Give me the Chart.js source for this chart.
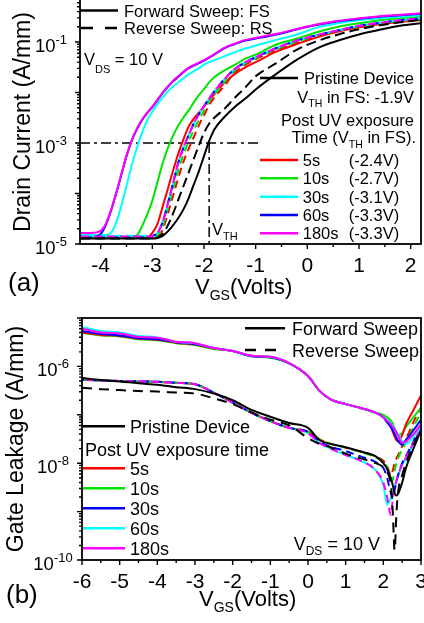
<!DOCTYPE html>
<html><head><meta charset="utf-8">
<script src="https://cdn.jsdelivr.net/npm/chart.js@4.4.0/dist/chart.umd.min.js"></script>
<style>
html,body{margin:0;padding:0;background:#fff;width:424px;height:623px;overflow:hidden;position:relative}
#wa{position:absolute;left:0;top:-20px;width:424px;height:320px}
#wb{position:absolute;left:0;top:300px;width:424px;height:323px}
canvas{display:block}
</style></head><body>
<div id="wa"><canvas id="ca" width="424" height="320"></canvas></div>
<div id="wb"><canvas id="cb" width="424" height="323"></canvas></div>
<script>
// ---------------- Panel (a): transfer curves, Id (A/mm) vs VGS ----------------
const vgsA = [-4.4,-4.2,-4.0,-3.9,-3.8,-3.7,-3.6,-3.5,-3.4,-3.3,-3.2,-3.1,-3.0,-2.9,-2.8,-2.7,-2.6,-2.5,-2.4,-2.3,-2.2,-2.1,-2.0,-1.9,-1.8,-1.6,-1.4,-1.2,-1.0,-0.6,-0.2,0.2,0.6,1.0,1.4,1.8,2.2];
const pristineFS_A = [1.29e-5,1.29e-5,1.29e-5,1.29e-5,1.29e-5,1.29e-5,1.29e-5,1.29e-5,1.29e-5,1.29e-5,1.29e-5,1.29e-5,1.29e-5,1.32e-5,1.45e-5,1.78e-5,2.34e-5,3.24e-5,4.79e-5,7.94e-5,1.48e-4,2.75e-4,5.50e-4,1.10e-3,1.86e-3,3.31e-3,5.25e-3,7.59e-3,1.15e-2,2.34e-2,4.47e-2,7.59e-2,0.107,0.141,0.174,0.209,0.234];
const pristineRS_A = [1.29e-5,1.29e-5,1.29e-5,1.29e-5,1.29e-5,1.29e-5,1.29e-5,1.29e-5,1.29e-5,1.29e-5,1.29e-5,1.29e-5,1.29e-5,1.35e-5,1.58e-5,2.34e-5,3.98e-5,7.41e-5,1.38e-4,2.57e-4,4.79e-4,8.91e-4,1.58e-3,2.40e-3,3.16e-3,4.79e-3,7.94e-3,1.26e-2,2.09e-2,3.80e-2,7.08e-2,0.105,0.141,0.178,0.214,0.245,0.275];
const uv5sFS_A = [1.35e-5,1.35e-5,1.35e-5,1.35e-5,1.35e-5,1.35e-5,1.35e-5,1.35e-5,1.35e-5,1.35e-5,1.35e-5,1.35e-5,1.66e-5,2.51e-5,5.50e-5,1.23e-4,2.82e-4,6.03e-4,1.17e-3,2.09e-3,3.02e-3,3.98e-3,5.25e-3,7.08e-3,9.33e-3,1.58e-2,2.34e-2,3.16e-2,3.98e-2,6.46e-2,9.12e-2,0.126,0.162,0.195,0.224,0.251,0.275];
const uv5sRS_A = [1.32e-5,1.32e-5,1.32e-5,1.32e-5,1.32e-5,1.32e-5,1.32e-5,1.32e-5,1.32e-5,1.32e-5,1.32e-5,1.32e-5,1.32e-5,1.38e-5,1.91e-5,3.98e-5,8.91e-5,2.00e-4,4.17e-4,7.59e-4,1.29e-3,2.24e-3,3.55e-3,5.62e-3,7.94e-3,1.38e-2,2.51e-2,3.55e-2,4.57e-2,6.92e-2,9.55e-2,0.132,0.166,0.200,0.229,0.251,0.269];
const uv10sFS_A = [1.41e-5,1.41e-5,1.41e-5,1.41e-5,1.41e-5,1.41e-5,1.41e-5,1.41e-5,1.41e-5,1.48e-5,2.24e-5,3.80e-5,7.24e-5,1.70e-4,3.98e-4,7.94e-4,1.38e-3,2.19e-3,3.16e-3,4.37e-3,6.31e-3,8.91e-3,1.17e-2,1.58e-2,2.00e-2,2.75e-2,3.55e-2,4.68e-2,5.62e-2,8.91e-2,0.117,0.158,0.200,0.234,0.269,0.295,0.316];
const uv10sRS_A = [1.38e-5,1.38e-5,1.38e-5,1.38e-5,1.38e-5,1.38e-5,1.38e-5,1.38e-5,1.38e-5,1.38e-5,1.38e-5,1.38e-5,1.38e-5,1.51e-5,2.29e-5,5.01e-5,1.20e-4,2.82e-4,5.75e-4,1.05e-3,1.78e-3,2.88e-3,4.37e-3,6.61e-3,9.12e-3,1.62e-2,2.75e-2,3.80e-2,4.79e-2,7.24e-2,0.102,0.135,0.170,0.204,0.234,0.263,0.282];
const uv30sFS_A = [1.51e-5,1.51e-5,1.51e-5,1.51e-5,1.66e-5,2.63e-5,5.75e-5,1.41e-4,3.55e-4,7.94e-4,1.58e-3,2.82e-3,4.17e-3,5.89e-3,7.94e-3,1.05e-2,1.32e-2,1.58e-2,1.91e-2,2.29e-2,2.63e-2,3.02e-2,3.55e-2,3.98e-2,4.37e-2,5.25e-2,6.31e-2,7.41e-2,8.51e-2,0.110,0.141,0.195,0.234,0.269,0.295,0.316,0.339];
const uv30sRS_A = [1.45e-5,1.45e-5,1.45e-5,1.45e-5,1.45e-5,1.45e-5,1.45e-5,1.45e-5,1.45e-5,1.45e-5,1.45e-5,1.45e-5,1.45e-5,1.66e-5,2.75e-5,6.31e-5,1.58e-4,3.98e-4,7.94e-4,1.41e-3,2.40e-3,3.72e-3,5.37e-3,7.59e-3,1.05e-2,1.86e-2,2.95e-2,3.98e-2,5.01e-2,7.59e-2,0.107,0.138,0.170,0.209,0.240,0.269,0.295];
const uv60sFS_A = [1.35e-5,1.35e-5,1.58e-5,2.40e-5,4.57e-5,1.00e-4,2.34e-4,5.50e-4,1.10e-3,1.86e-3,2.82e-3,3.89e-3,5.13e-3,7.08e-3,9.77e-3,1.29e-2,1.66e-2,2.04e-2,2.51e-2,3.02e-2,3.39e-2,3.80e-2,4.27e-2,4.90e-2,5.62e-2,7.59e-2,9.12e-2,0.107,0.117,0.141,0.178,0.219,0.257,0.288,0.316,0.339,0.363];
const uv60sRS_A = [1.35e-5,1.35e-5,1.35e-5,1.35e-5,1.35e-5,1.35e-5,1.35e-5,1.35e-5,1.35e-5,1.35e-5,1.35e-5,1.35e-5,1.45e-5,1.66e-5,2.75e-5,6.31e-5,1.58e-4,3.98e-4,7.94e-4,1.41e-3,2.40e-3,3.72e-3,5.37e-3,7.59e-3,1.05e-2,1.86e-2,2.95e-2,3.98e-2,5.01e-2,7.59e-2,0.107,0.138,0.170,0.209,0.240,0.269,0.295];
const uv180sFS_A = [1.66e-5,1.66e-5,1.82e-5,2.51e-5,4.68e-5,1.02e-4,2.40e-4,5.62e-4,1.12e-3,1.91e-3,2.88e-3,3.98e-3,5.25e-3,7.24e-3,1.00e-2,1.32e-2,1.70e-2,2.09e-2,2.57e-2,3.09e-2,3.47e-2,3.89e-2,4.37e-2,5.01e-2,5.75e-2,7.76e-2,9.33e-2,0.110,0.120,0.145,0.182,0.224,0.263,0.295,0.324,0.347,0.372];
const uv180sRS_A = [1.41e-5,1.41e-5,1.41e-5,1.41e-5,1.41e-5,1.41e-5,1.41e-5,1.41e-5,1.41e-5,1.41e-5,1.41e-5,1.41e-5,1.45e-5,1.66e-5,2.75e-5,6.31e-5,1.58e-4,3.98e-4,7.94e-4,1.41e-3,2.40e-3,3.72e-3,5.37e-3,7.59e-3,1.05e-2,1.86e-2,2.95e-2,3.98e-2,5.01e-2,7.59e-2,0.107,0.138,0.170,0.209,0.240,0.269,0.295];
const exposureLabelsA = ['5s','10s','30s','60s','180s'];
const vthLabelsA = ['(-2.4V)','(-2.7V)','(-3.1V)','(-3.3V)','(-3.3V)'];
const xTicksA = [-4,-3,-2,-1,0,1,2];
const yTickExpA = [-5,-3,-1];
const thresholdCurrentA = 1e-3;
const guideFromVgsA = -4.4, guideToVgsA = -0.95;
const vthPristineA = -1.9;

// ---------------- Panel (b): gate leakage (A/mm) vs VGS ----------------
const vgsB = [-6,-5.5,-5,-4.5,-4,-3.5,-3,-2.5,-2,-1.5,-1,-0.5,0,0.3,0.6,1,1.4,1.8,2,2.1,2.2,2.25,2.3,2.35,2.4,2.5,2.6,2.8,3];
const pristineFS_B = [5.75e-7,5.25e-7,4.90e-7,4.47e-7,4.17e-7,3.72e-7,3.39e-7,2.75e-7,2.00e-7,1.26e-7,9.12e-8,6.76e-8,5.37e-8,3.02e-8,2.51e-8,2.14e-8,1.74e-8,1.38e-8,1.00e-8,7.59e-9,4.79e-9,3.55e-9,2.40e-9,2.14e-9,2.40e-9,3.98e-9,7.94e-9,2.00e-8,4.79e-8];
const pristineRS_B = [3.63e-7,3.39e-7,3.24e-7,3.09e-7,3.02e-7,2.88e-7,2.75e-7,2.19e-7,1.66e-7,1.12e-7,7.94e-8,6.03e-8,3.31e-8,2.51e-8,2.14e-8,1.58e-8,1.26e-8,1.00e-8,8.32e-9,6.61e-9,3.55e-9,1.00e-9,1.58e-10,1.00e-9,2.82e-9,5.62e-9,1.00e-8,2.40e-8,5.01e-8];
const uv5sFS_B = [5.01e-6,4.47e-6,4.27e-6,3.72e-6,3.55e-6,3.09e-6,2.82e-6,2.34e-6,2.09e-6,1.66e-6,1.58e-6,1.17e-6,6.31e-7,3.16e-7,2.09e-7,1.66e-7,1.38e-7,1.10e-7,8.91e-8,7.08e-8,5.62e-8,4.47e-8,3.55e-8,2.95e-8,2.82e-8,3.80e-8,6.31e-8,1.26e-7,2.51e-7];
const uv10sFS_B = [4.90e-6,4.37e-6,4.17e-6,3.63e-6,3.47e-6,3.02e-6,2.75e-6,2.29e-6,2.09e-6,1.62e-6,1.51e-6,1.15e-6,6.31e-7,3.16e-7,2.09e-7,1.66e-7,1.38e-7,1.10e-7,1.00e-7,8.91e-8,7.59e-8,6.61e-8,5.25e-8,4.17e-8,3.80e-8,4.17e-8,5.62e-8,8.91e-8,1.41e-7];
const uv30sFS_B = [5.37e-6,4.68e-6,4.37e-6,3.80e-6,3.63e-6,3.16e-6,2.88e-6,2.40e-6,2.09e-6,1.62e-6,1.55e-6,1.15e-6,6.31e-7,3.16e-7,2.09e-7,1.66e-7,1.38e-7,1.10e-7,8.91e-8,7.08e-8,5.62e-8,4.79e-8,3.98e-8,3.31e-8,2.82e-8,2.40e-8,3.02e-8,4.79e-8,7.94e-8];
const uv60sFS_B = [6.46e-6,5.37e-6,5.01e-6,4.27e-6,3.98e-6,3.24e-6,3.02e-6,2.40e-6,2.09e-6,1.66e-6,1.58e-6,1.17e-6,6.31e-7,3.16e-7,2.09e-7,1.66e-7,1.38e-7,1.10e-7,8.91e-8,7.94e-8,6.61e-8,6.03e-8,5.25e-8,4.47e-8,3.80e-8,2.82e-8,2.51e-8,3.55e-8,5.62e-8];
const uv180sFS_B = [6.03e-6,5.01e-6,4.79e-6,4.07e-6,3.89e-6,3.24e-6,3.02e-6,2.40e-6,2.09e-6,1.66e-6,1.58e-6,1.17e-6,6.31e-7,3.16e-7,2.09e-7,1.66e-7,1.38e-7,1.10e-7,8.91e-8,7.59e-8,6.31e-8,5.62e-8,5.01e-8,4.27e-8,3.55e-8,2.63e-8,2.82e-8,3.98e-8,6.31e-8];
const uv5sRS_B = [5.25e-7,5.13e-7,5.01e-7,4.90e-7,4.79e-7,4.57e-7,4.27e-7,2.88e-7,1.78e-7,1.10e-7,7.41e-8,5.37e-8,4.47e-8,3.16e-8,2.51e-8,2.09e-8,1.74e-8,1.38e-8,1.12e-8,8.91e-9,5.62e-9,7.08e-9,1.00e-8,1.26e-8,1.51e-8,2.24e-8,3.16e-8,7.08e-8,1.41e-7];
const uv10sRS_B = [5.25e-7,5.13e-7,5.01e-7,4.90e-7,4.79e-7,4.57e-7,4.27e-7,2.88e-7,1.78e-7,1.10e-7,7.41e-8,5.37e-8,4.47e-8,3.16e-8,2.51e-8,2.09e-8,1.70e-8,1.32e-8,1.07e-8,8.32e-9,5.01e-9,4.47e-9,7.08e-9,1.00e-8,1.32e-8,1.91e-8,2.63e-8,5.62e-8,1.12e-7];
const uv30sRS_B = [5.25e-7,5.13e-7,5.01e-7,4.90e-7,4.79e-7,4.57e-7,4.27e-7,2.88e-7,1.78e-7,1.10e-7,7.41e-8,5.37e-8,4.47e-8,2.82e-8,2.19e-8,1.78e-8,1.38e-8,1.05e-8,7.94e-9,5.01e-9,2.40e-9,1.91e-9,2.82e-9,4.17e-9,6.03e-9,1.00e-8,1.41e-8,2.82e-8,6.61e-8];
const uv60sRS_B = [5.25e-7,5.13e-7,5.01e-7,4.90e-7,4.79e-7,4.57e-7,4.27e-7,2.88e-7,1.78e-7,1.10e-7,7.41e-8,5.37e-8,4.17e-8,2.63e-8,2.00e-8,1.48e-8,1.12e-8,7.08e-9,3.55e-9,1.41e-9,1.91e-9,2.40e-9,3.16e-9,4.17e-9,5.62e-9,8.91e-9,1.26e-8,2.51e-8,5.25e-8];
const uv180sRS_B = [5.25e-7,5.13e-7,5.01e-7,4.90e-7,4.79e-7,4.57e-7,4.27e-7,2.88e-7,1.78e-7,1.10e-7,7.41e-8,5.37e-8,4.17e-8,2.63e-8,2.00e-8,1.48e-8,1.12e-8,7.08e-9,3.98e-9,2.00e-9,8.51e-10,1.78e-9,3.16e-9,4.47e-9,6.03e-9,9.55e-9,1.32e-8,2.63e-8,5.62e-8];
const exposureLabelsB = ['5s','10s','30s','60s','180s'];
const xTicksB = [-6,-5,-4,-3,-2,-1,0,1,2,3];
const yTickExpB = [-10,-8,-6];

// ---------------- styling ----------------
const RED='#ff0000', GREEN='#00e400', CYAN='#00ffff', BLUE='#0000ff', MAGENTA='#ff00ff', BLACK='#000000';
const colorsA = [RED, GREEN, CYAN, BLUE, MAGENTA];
const colorsB = [RED, GREEN, BLUE, CYAN, MAGENTA];
const FONT = "'Liberation Sans', Arial, Helvetica, sans-serif";

function series(xs, ys, color, dash, offset, width){
  return {data: xs.map((x,i)=>({x:x, y:ys[i]})), borderColor: color, backgroundColor: color,
    borderWidth: width||2, borderDash: dash||[], borderDashOffset: offset||0,
    pointRadius:0, pointHoverRadius:0, fill:false, cubicInterpolationMode:'monotone'};
}
function setFont(ctx, s){ ctx.font = s + 'px ' + FONT; }
function rich(ctx, parts, x, y, align){
  let w = 0;
  parts.forEach(p=>{ setFont(ctx,p[1]); w += ctx.measureText(p[0]).width; });
  let cx = align==='right' ? x-w : (align==='center' ? x-w/2 : x);
  ctx.textAlign='left'; ctx.textBaseline='alphabetic';
  parts.forEach(p=>{ setFont(ctx,p[1]); ctx.fillText(p[0], cx, y+(p[2]||0)); cx += ctx.measureText(p[0]).width; });
}
function hline(ctx, x0, x1, y, color, w, dash){
  ctx.save(); ctx.strokeStyle=color; ctx.lineWidth=w; ctx.setLineDash(dash||[]);
  ctx.beginPath(); ctx.moveTo(x0,y); ctx.lineTo(x1,y); ctx.stroke(); ctx.restore();
}
function vtitle(ctx, text, size, baseX, centerY){
  ctx.save(); ctx.translate(baseX, centerY); ctx.rotate(-Math.PI/2);
  setFont(ctx,size); ctx.textAlign='center'; ctx.textBaseline='alphabetic';
  ctx.fillText(text, 0, 0); ctx.restore();
}
function drawFrame(chart, xTicks, yExp, yLabelCenter){
  const ctx=chart.ctx, a=chart.chartArea, xs=chart.scales.x, ys=chart.scales.y;
  ctx.save(); ctx.strokeStyle='#000'; ctx.fillStyle='#000';
  ctx.lineWidth=1.8; ctx.setLineDash([]);
  ctx.strokeRect(a.left, a.top, a.right-a.left, a.bottom-a.top);
  ctx.lineWidth=1.4; ctx.beginPath();
  for(let k=Math.ceil(xs.min*2); k/2<=xs.max+1e-9; k++){
    const px=xs.getPixelForValue(k/2), major=(k%2===0);
    ctx.moveTo(px, a.bottom); ctx.lineTo(px, a.bottom+(major?5:3));
  }
  const d0=Math.floor(Math.log10(ys.min)), d1=Math.ceil(Math.log10(ys.max));
  for(let d=d0; d<=d1; d++){
    for(let m=1;m<=9;m++){
      const v=m*Math.pow(10,d);
      if(v<ys.min*0.999||v>ys.max*1.001) continue;
      const py=ys.getPixelForValue(v);
      ctx.moveTo(a.left, py); ctx.lineTo(a.left-(m===1?5:3), py);
    }
  }
  ctx.stroke();
  setFont(ctx,21); ctx.textAlign='center'; ctx.textBaseline='alphabetic';
  xTicks.forEach(v=>{ ctx.fillText(String(v), xs.getPixelForValue(v), a.bottom+28); });
  yExp.forEach(e=>{
    const py=ys.getPixelForValue(Math.pow(10,e));
    rich(ctx, [['10',18.5,10],[String(e),13,2]], yLabelCenter, py, 'center');
  });
  ctx.restore();
}

// ---------------- chart (a) ----------------
// built bottom-to-top, then reversed (Chart.js paints dataset 0 last, i.e. on top)
const setsA = [];
[uv5sFS_A, uv10sFS_A, uv30sFS_A, uv60sFS_A, uv180sFS_A].forEach((s,i)=>setsA.push(series(vgsA, s, colorsA[i], [], 0, 2)));
[uv5sRS_A, uv10sRS_A, uv30sRS_A, uv60sRS_A, uv180sRS_A].forEach((s,i)=>setsA.push(series(vgsA, s, colorsA[i], [8,5], i*3, 2)));
setsA.push(series(vgsA, pristineRS_A, BLACK, [10,5], 0, 2));
setsA.push(series(vgsA, pristineFS_A, BLACK, [], 0, 2));
setsA.reverse();

const pluginA = {
  id:'panelA',
  beforeDatasetsDraw(chart){
    const ctx=chart.ctx, xs=chart.scales.x, ys=chart.scales.y;
    ctx.save(); ctx.strokeStyle='#000'; ctx.lineWidth=1.5; ctx.setLineDash([10,4,3,4]);
    const yp=ys.getPixelForValue(thresholdCurrentA);
    ctx.beginPath();
    ctx.moveTo(xs.getPixelForValue(guideFromVgsA), yp); ctx.lineTo(xs.getPixelForValue(guideToVgsA), yp);
    const xp=xs.getPixelForValue(vthPristineA);
    ctx.moveTo(xp, yp); ctx.lineTo(xp, chart.chartArea.bottom);
    ctx.stroke(); ctx.restore();
  },
  afterDraw(chart){
    drawFrame(chart, xTicksA, yTickExpA, 51);
    const ctx=chart.ctx; ctx.save(); ctx.translate(0,20); ctx.fillStyle='#000';
    hline(ctx,80,118,10.5,BLACK,2.5,[]);
    rich(ctx,[['Forward Sweep: FS',16.5]],124,16.5,'left');
    hline(ctx,81,117,28,BLACK,2.5,[12,12]);
    rich(ctx,[['Reverse Sweep: RS',16.5]],124,34,'left');
    rich(ctx,[['V',16.5],['DS',11,8],[' = 10 V',16.5]],84,65,'left');
    hline(ctx,260,298,78,BLACK,2.5,[]);
    rich(ctx,[['Pristine Device',16.5]],414,84,'right');
    rich(ctx,[['V',16.5],['TH',10.5,4.5],[' in FS: -1.9V',16.5]],414,102.5,'right');
    rich(ctx,[['Post UV exposure',16.5]],414,125.5,'right');
    rich(ctx,[['Time (V',16.5],['TH',10.5,4.5],[' in FS).',16.5]],416,143,'right');
    const ly=[160,178.3,196.7,215,233.3];
    ly.forEach((y,i)=>{
      hline(ctx,260,298,y,colorsA[i],2.5,[]);
      rich(ctx,[[exposureLabelsA[i],16.5]],302.7,y+6,'left');
      rich(ctx,[[vthLabelsA[i],16.5]],348.7,y+6,'left');
    });
    rich(ctx,[['V',16.5],['TH',11,5]],212,235,'left');
    rich(ctx,[['V',22],['GS',14,6],['(Volts)',22]],195,294,'left');
    vtitle(ctx,'Drain Current (A/mm)',23,29.5,122);
    rich(ctx,[['(a)',26]],8,291,'left');
    ctx.restore();
  }
};

new Chart(document.getElementById('ca'), {
  type:'line',
  data:{datasets:setsA},
  options:{
    responsive:false, animation:false, devicePixelRatio:1,
    layout:{padding:{top:19,right:3,left:0,bottom:0}},
    plugins:{legend:{display:false}, tooltip:{enabled:false}},
    scales:{
      x:{type:'linear', min:-4.4, max:2.2, ticks:{display:false, stepSize:1}, grid:{display:false}, border:{display:false}, afterFit:(s)=>{s.height=56;}},
      y:{type:'logarithmic', min:1e-5, max:0.71, ticks:{display:false}, grid:{display:false}, border:{display:false}, afterFit:(s)=>{s.width=80;}}
    }
  },
  plugins:[pluginA]
});

// ---------------- chart (b) ----------------
const setsB = [];
setsB.push(series(vgsB, uv60sRS_B, colorsB[3], [], 0, 2));
[[uv5sRS_B,0],[uv10sRS_B,1],[uv30sRS_B,2],[uv180sRS_B,4]].forEach((p,i)=>setsB.push(series(vgsB, p[0], colorsB[p[1]], [8,5], i*3, 2)));
[[uv10sFS_B,1],[uv5sFS_B,0],[uv30sFS_B,2],[uv60sFS_B,3],[uv180sFS_B,4]].forEach(p=>setsB.push(series(vgsB, p[0], colorsB[p[1]], [], 0, 2)));
setsB.push(series(vgsB, pristineRS_B, BLACK, [10,7], 0, 2));
setsB.push(series(vgsB, pristineFS_B, BLACK, [], 0, 2));
setsB.reverse();

const pluginB = {
  id:'panelB',
  afterDraw(chart){
    drawFrame(chart, xTicksB, yTickExpB, 53);
    const ctx=chart.ctx; ctx.save(); ctx.translate(0,-300); ctx.fillStyle='#000';
    hline(ctx,245,285,328.3,BLACK,2.5,[]);
    rich(ctx,[['Forward Sweep',18]],292,334.8,'left');
    hline(ctx,245,285,350,BLACK,2.5,[11,9]);
    rich(ctx,[['Reverse Sweep',18]],292,356.5,'left');
    hline(ctx,83,125,426.3,BLACK,2.5,[]);
    rich(ctx,[['Pristine Device',18]],130,432.8,'left');
    rich(ctx,[['Post UV exposure time',18]],85,456,'left');
    const ly=[468.3,488.3,508.3,528.3,548.3];
    ly.forEach((y,i)=>{
      hline(ctx,83,125,y,colorsB[i],2.5,[]);
      rich(ctx,[[exposureLabelsB[i],18]],130,y+6.5,'left');
    });
    rich(ctx,[['V',18],['DS',12,5],[' = 10 V',18]],293.7,550,'left');
    rich(ctx,[['V',22],['GS',14,6],['(Volts)',22]],199,606,'left');
    vtitle(ctx,'Gate Leakage (A/mm)',23,22.5,439);
    rich(ctx,[['(b)',26]],6,603,'left');
    ctx.restore();
  }
};

new Chart(document.getElementById('cb'), {
  type:'line',
  data:{datasets:setsB},
  options:{
    responsive:false, animation:false, devicePixelRatio:1,
    layout:{padding:{top:18,right:3,left:0,bottom:0}},
    plugins:{legend:{display:false}, tooltip:{enabled:false}},
    scales:{
      x:{type:'linear', min:-6, max:3, ticks:{display:false, stepSize:1}, grid:{display:false}, border:{display:false}, afterFit:(s)=>{s.height=63;}},
      y:{type:'logarithmic', min:1e-10, max:1e-5, ticks:{display:false}, grid:{display:false}, border:{display:false}, afterFit:(s)=>{s.width=82;}}
    }
  },
  plugins:[pluginB]
});
</script>
</body></html>
